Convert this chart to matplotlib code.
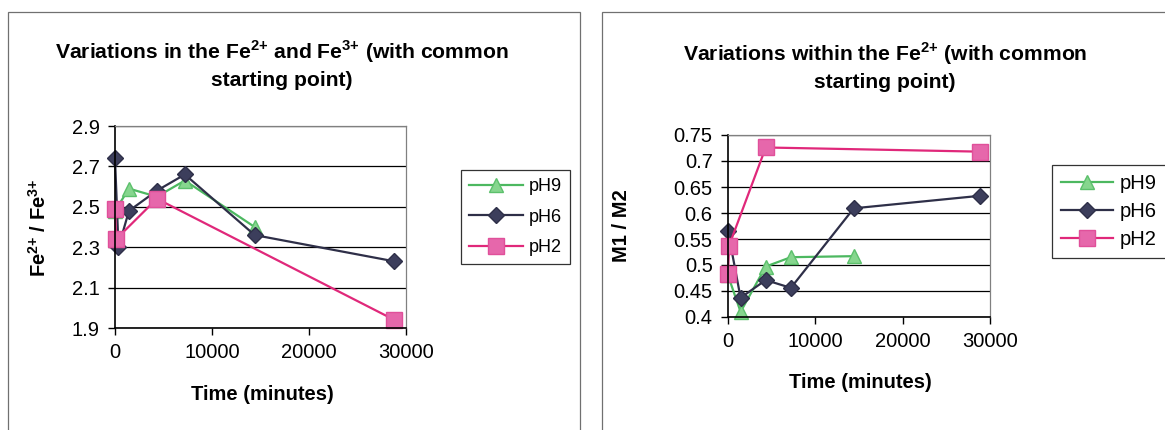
import matplotlib
matplotlib.use('Agg')
import matplotlib.pyplot as plt
from matplotlib.patches import Rectangle
from matplotlib.ticker import FuncFormatter

plt.rcParams['font.family'] = ['Liberation Sans', 'DejaVu Sans']
plt.rcParams['mathtext.fontset'] = 'custom'
plt.rcParams['mathtext.rm'] = 'Liberation Sans'
plt.rcParams['mathtext.bf'] = 'Liberation Sans:bold'

# Fe2+/Fe3+ ratio vs time (minutes)
fe_ph9_t = [0, 1440, 4320, 7200, 14400]
fe_ph9 = [2.48, 2.59, 2.55, 2.63, 2.40]
fe_ph6_t = [0, 360, 1440, 4320, 7200, 14400, 28800]
fe_ph6 = [2.74, 2.30, 2.48, 2.58, 2.66, 2.36, 2.23]
fe_ph2_t = [0, 120, 4320, 28800]
fe_ph2 = [2.49, 2.34, 2.54, 1.94]

# M1/M2 ratio within Fe2+ vs time (minutes)
m_ph9_t = [0, 1440, 4320, 7200, 14400]
m_ph9 = [0.48, 0.41, 0.497, 0.515, 0.517]
m_ph6_t = [0, 1440, 4320, 7200, 14400, 28800]
m_ph6 = [0.565, 0.437, 0.471, 0.456, 0.609, 0.633]
m_ph2_t = [0, 120, 4320, 28800]
m_ph2 = [0.483, 0.537, 0.726, 0.718]

series_names = ['pH9', 'pH6', 'pH2']
left_yticks = [1.9, 2.1, 2.3, 2.5, 2.7, 2.9]
right_yticks = [0.4, 0.45, 0.5, 0.55, 0.6, 0.65, 0.7, 0.75]
xticks = [0, 10000, 20000, 30000]

STYLES = {
    'pH9': dict(color='#4cb860', marker='^', ms=10, mfc='#86d68e', mec='#5cc06c'),
    'pH6': dict(color='#2e2f48', marker='D', ms=8, mfc='#3c3e5c', mec='#2e2f48'),
    'pH2': dict(color='#e0287a', marker='s', ms=11, mfc='#e667ab', mec='#e0509a'),
}

W, H = 1165, 430
fig = plt.figure(figsize=(W / 100, H / 100), dpi=100)


def fx(px):
    return px / W


def fy(py):
    return (H - py) / H


# panel frames
for x0, x1 in [(8, 580), (602, 1175)]:
    fig.patches.append(Rectangle((fx(x0), fy(440)), fx(x1 - x0), (440 - 12) / H,
                                 transform=fig.transFigure, fill=False,
                                 edgecolor='#707070', lw=0.9))


def draw(ax, data, yticks, ylabel):
    for name, (t, v) in zip(series_names, data):
        ax.plot(t, v, lw=1.6, label=name, clip_on=False, **STYLES[name])
    ax.set_xlim(0, 30000)
    ax.set_ylim(yticks[0], yticks[-1])
    ax.set_xticks(xticks)
    ax.set_yticks(yticks)
    ax.yaxis.set_major_formatter(FuncFormatter(lambda v, p: f"{v:g}"))
    ax.grid(axis='y', color='black', lw=0.9)
    ax.set_axisbelow(True)
    for s in ['top', 'right']:
        ax.spines[s].set_color('#808080')
        ax.spines[s].set_linewidth(0.9)
    for s in ['left', 'bottom']:
        ax.spines[s].set_color('black')
        ax.spines[s].set_linewidth(1.2)
    ax.tick_params(labelsize=14.5, length=5, width=1, pad=6, direction='out')
    ax.set_xlabel('Time (minutes)', fontsize=14.5, fontweight='bold', va='top')
    ax.set_ylabel(ylabel, fontsize=14.5, fontweight='bold')


SUP2 = r'$^{\mathbf{2{+}}}$'
SUP3 = r'$^{\mathbf{3{+}}}$'

ax1 = fig.add_axes([fx(115), fy(328), fx(406 - 115), (328 - 126) / H])
draw(ax1, [(fe_ph9_t, fe_ph9), (fe_ph6_t, fe_ph6), (fe_ph2_t, fe_ph2)],
     left_yticks, 'Fe' + SUP2 + ' / Fe' + SUP3)
ax1.xaxis.set_label_coords(0.505, -0.28)
ax1.yaxis.set_label_coords(-0.225, 0.495)

ax2 = fig.add_axes([fx(728), fy(317), fx(990 - 728), (317 - 135) / H])
draw(ax2, [(m_ph9_t, m_ph9), (m_ph6_t, m_ph6), (m_ph2_t, m_ph2)],
     right_yticks, 'M1 / M2')
ax2.xaxis.set_label_coords(0.504, -0.31)
ax2.yaxis.set_label_coords(-0.37, 0.5)

fig.text(fx(282), fy(64), 'Variations in the Fe' + SUP2 + ' and Fe' + SUP3 + ' (with common\nstarting point)',
         ha='center', va='center', fontsize=15.2, fontweight='bold', linespacing=1.4)
fig.text(fx(885), fy(66), 'Variations within the Fe' + SUP2 + ' (with common\nstarting point)',
         ha='center', va='center', fontsize=15.2, fontweight='bold', linespacing=1.4)

legend_opts = [
    (ax1, (461, 170), 13, 3.0, 0.75),
    (ax2, (1052, 165), 14.5, 2.6, 0.45),
]
for ax, (lx, ly), fs, hl, ls in legend_opts:
    leg = fig.legend(*ax.get_legend_handles_labels(), loc='upper left',
                     bbox_to_anchor=(fx(lx), fy(ly)), bbox_transform=fig.transFigure,
                     fontsize=fs, frameon=True, fancybox=False, handlelength=hl,
                     labelspacing=ls, borderpad=0.45, handletextpad=0.3,
                     borderaxespad=0)
    leg.get_frame().set_edgecolor('black')
    leg.get_frame().set_linewidth(0.9)

fig.savefig('out.png', dpi=100)
